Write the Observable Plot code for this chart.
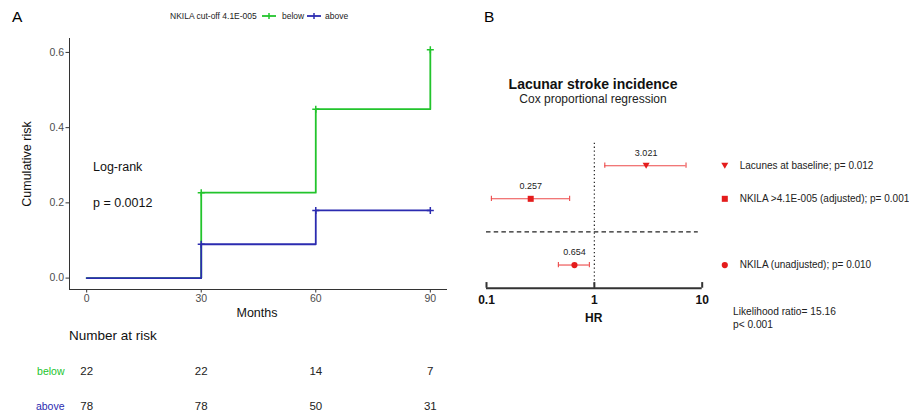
<!DOCTYPE html>
<html><head><meta charset="utf-8">
<script src="https://cdn.jsdelivr.net/npm/d3@7"></script>
<script src="https://cdn.jsdelivr.net/npm/@observablehq/plot@0.6"></script>
<style>
body{margin:0;background:#fff;}
#root{position:relative;width:909px;height:416px;overflow:hidden;background:#fff;font-family:"Liberation Sans",Arial,sans-serif;color:#000;}
.t{position:absolute;white-space:nowrap;line-height:1;}
svg.p{position:absolute;}
</style></head><body><div id="root"></div>
<script>
// ---- Panel A: cumulative risk (Kaplan-Meier style) ----
const months = [0, 30, 60, 90];
const riskBelow = [0, 0.227, 0.449, 0.607];
const riskAbove = [0, 0.090, 0.180, 0.180];
const censorMonths = [30, 60, 90];
const groups = ["below", "above"];
const atRiskBelow = [22, 22, 14, 7];
const atRiskAbove = [78, 78, 50, 31];
const kmTicksX = [0, 30, 60, 90];
const kmTicksY = [0, 0.2, 0.4, 0.6];

// ---- Panel B: Cox proportional regression ----
const coxLabels = ["Lacunes at baseline; p= 0.012", "NKILA >4.1E-005 (adjusted); p= 0.001", "NKILA (unadjusted); p= 0.010"];
const coxHR = [3.021, 0.257, 0.654];
const coxLow = [1.25, 0.111, 0.464];
const coxHigh = [7.08, 0.59, 0.899];
const coxRow = [0, 1, 3];
const coxShape = ["triangleDown", "square", "circle"];
const separatorRow = 2;
const hrTicks = [0.1, 1, 10];

const GREEN = "#22c42c", BLUE = "#2b2bb0", RED = "#e41c1c", CIRED = "#ec4a4a";
const FONT = '"Liberation Sans", Arial, sans-serif';
const root = document.getElementById("root");

function txt(s, x, y, opts = {}) {
  const d = document.createElement("div");
  d.className = "t";
  d.textContent = s;
  d.style.left = x + "px";
  d.style.top = y + "px";
  d.style.fontSize = (opts.size || 12) + "px";
  if (opts.bold) d.style.fontWeight = "bold";
  if (opts.color) d.style.color = opts.color;
  const ax = opts.align === "center" ? "-50%" : opts.align === "right" ? "-100%" : "0";
  d.style.transform = `translate(${ax},-50%)` + (opts.rotate ? ` rotate(${opts.rotate}deg)` : "");
  root.appendChild(d);
  return d;
}
function place(svg, left, top) {
  svg.classList.add("p");
  svg.style.left = left + "px";
  svg.style.top = top + "px";
  root.appendChild(svg);
}

// KM plot
const xDom = [-4.5, 94.5], yDom = [-0.0303, 0.637];
const kmBelow = months.map((m, i) => ({m, r: riskBelow[i]}));
const kmAbove = months.map((m, i) => ({m, r: riskAbove[i]}));
const cenBelow = censorMonths.map(m => ({m, r: riskBelow[months.indexOf(m)]}));
const cenAbove = censorMonths.map(m => ({m, r: riskAbove[months.indexOf(m)]}));

const km = Plot.plot({
  width: 460, height: 320, marginLeft: 69, marginRight: 13, marginTop: 38, marginBottom: 31,
  x: {domain: xDom}, y: {domain: yDom},
  style: {fontFamily: FONT, background: "transparent", overflow: "visible"},
  marks: [
    Plot.ruleX([xDom[0]], {stroke: "#333", strokeWidth: 1}),
    Plot.ruleY([yDom[0]], {stroke: "#333", strokeWidth: 1}),
    Plot.axisX({ticks: kmTicksX, tickSize: 3.5, tickPadding: 2, fontSize: 10.5, fill: "#4d4d4d", stroke: "#333", label: null}),
    Plot.axisY({ticks: kmTicksY, tickFormat: d3.format(".1f"), tickSize: 3.5, tickPadding: 2, fontSize: 10.5, fill: "#4d4d4d", stroke: "#333", label: null}),
    Plot.line(kmBelow, {x: "m", y: "r", curve: "step-after", stroke: GREEN, strokeWidth: 1.8}),
    Plot.line(kmAbove, {x: "m", y: "r", curve: "step-after", stroke: BLUE, strokeWidth: 1.8}),
    Plot.dot(cenBelow, {x: "m", y: "r", symbol: "plus", r: 2.4, stroke: GREEN, strokeWidth: 1.5}),
    Plot.dot(cenAbove, {x: "m", y: "r", symbol: "plus", r: 2.4, stroke: BLUE, strokeWidth: 1.5})
  ]
});
place(km, 0, 0);

// Number at risk table
const tableData = groups.flatMap(g => months.map((m, i) => ({g, m, n: (g === "below" ? atRiskBelow : atRiskAbove)[i]})));
const tbl = Plot.plot({
  width: 460, height: 96, marginLeft: 69, marginRight: 13, marginTop: 0, marginBottom: 0,
  x: {domain: xDom, axis: null},
  y: {type: "point", domain: groups, range: [51, 86], padding: 0, axis: null},
  style: {fontFamily: FONT, background: "transparent", overflow: "visible"},
  marks: [
    Plot.text(tableData, {x: "m", y: "g", text: "n", fontSize: 11.5, fill: "#222"}),
    Plot.text(groups.filter(g => g === "below"), {y: d => d, text: d => d, frameAnchor: "left", textAnchor: "end", dx: -5, fontSize: 10.5, fill: GREEN}),
    Plot.text(groups.filter(g => g === "above"), {y: d => d, text: d => d, frameAnchor: "left", textAnchor: "end", dx: -5, fontSize: 10.5, fill: BLUE})
  ]
});
place(tbl, 0, 320);

// Forest plot
const triangleDown = {
  draw(ctx, size) {
    const w = Math.sqrt(size) * 1.2, h = w * 0.43;
    ctx.moveTo(-w / 2, -h); ctx.lineTo(w / 2, -h); ctx.lineTo(0, h); ctx.closePath();
  }
};
const symbolFor = {triangleDown, square: "square", circle: "circle"};
const rSize = {triangleDown: 3.3, square: 3.4, circle: 3.1};
const cox = coxLabels.map((label, i) => ({label, hr: coxHR[i], lo: coxLow[i], hi: coxHigh[i], row: coxRow[i], shape: coxShape[i]}));
const yTop = -0.68, yBot = 3.7;
const xD = [hrTicks[0], hrTicks[hrTicks.length - 1]];

const dotMarks = [];
for (const shape of coxShape) {
  const sub = cox.filter(d => d.shape === shape);
  dotMarks.push(Plot.dot(sub, {x: "hr", y: "row", symbol: symbolFor[shape], r: rSize[shape], fill: RED, stroke: "none"}));
  dotMarks.push(Plot.dot(sub, {y: "row", frameAnchor: "right", dx: 22.6, symbol: symbolFor[shape], r: rSize[shape], fill: RED, stroke: "none"}));
}

const forest = Plot.plot({
  width: 449, height: 416, marginLeft: 26, marginRight: 207.3, marginTop: 142.7, marginBottom: 128.3,
  x: {type: "log", domain: xD},
  y: {domain: [yTop, yBot], reverse: true, axis: null},
  style: {fontFamily: FONT, background: "transparent", overflow: "hidden"},
  marks: [
    Plot.ruleX([1], {y1: yTop, y2: yBot, stroke: "#222", strokeWidth: 1.2, strokeDasharray: "1.3,2.6"}),
    Plot.ruleY([separatorRow], {x1: xD[0], x2: 9.2, stroke: "#222", strokeWidth: 1.3, strokeDasharray: "4.5,3.2"}),
    Plot.ruleY([yBot], {x1: xD[0], x2: xD[1], stroke: "#333", strokeWidth: 2}),
    Plot.ruleX(hrTicks, {x: d => d, y1: yBot, y2: yBot - 0.17, stroke: "#333", strokeWidth: 2}),
    Plot.axisX({ticks: hrTicks, tickFormat: d => String(d), tickSize: 0, tickPadding: 7, fontSize: 12, fontWeight: "bold", fill: "#111", label: null}),
    Plot.ruleY(cox, {y: "row", x1: "lo", x2: "hi", stroke: CIRED, strokeWidth: 1.1}),
    Plot.ruleX(cox, {x: "lo", y1: d => d.row - 0.08, y2: d => d.row + 0.08, stroke: CIRED, strokeWidth: 1.1}),
    Plot.ruleX(cox, {x: "hi", y1: d => d.row - 0.08, y2: d => d.row + 0.08, stroke: CIRED, strokeWidth: 1.1}),
    ...dotMarks,
    Plot.text(cox, {x: "hr", y: "row", text: d => d3.format(".3f")(d.hr), dy: -12.6, fontSize: 9, fill: "#222"}),
    Plot.text(cox, {y: "row", text: "label", frameAnchor: "right", textAnchor: "start", dx: 37.5, fontSize: 10, fill: "#222"})
  ]
});
place(forest, 460, 0);

// ---- Text annotations ----
txt("A", 12, 17, {size: 15.5});
txt("B", 484, 17, {size: 15.5});

// legend (panel A)
txt("NKILA cut-off 4.1E-005", 170, 16, {size: 8.5, color: "#222"});
function legendGlyph(x, color) {
  const ns = "http://www.w3.org/2000/svg";
  const s = document.createElementNS(ns, "svg");
  s.setAttribute("width", 16); s.setAttribute("height", 10);
  s.style.position = "absolute"; s.style.left = x + "px"; s.style.top = "11px";
  s.innerHTML = `<line x1="1" y1="5" x2="15" y2="5" stroke="${color}" stroke-width="1.8"/><line x1="8" y1="2" x2="8" y2="8" stroke="${color}" stroke-width="1.5"/>`;
  root.appendChild(s);
}
legendGlyph(261, GREEN);
txt("below", 282, 16, {size: 8.5, color: "#222"});
legendGlyph(306, BLUE);
txt("above", 325, 16, {size: 8.5, color: "#222"});

txt("Cumulative risk", 27, 164, {size: 12.5, align: "center", rotate: -90, color: "#111"});
txt("Months", 257, 313, {size: 12.5, align: "center", color: "#111"});
txt("Log-rank", 93, 167, {size: 12.5, color: "#111"});
txt("p = 0.0012", 93, 203, {size: 12.5, color: "#111"});
txt("Number at risk", 69, 336, {size: 13.5, color: "#111"});

txt("Lacunar stroke incidence", 593, 84, {size: 14, bold: true, align: "center", color: "#111"});
txt("Cox proportional regression", 593, 99, {size: 12, align: "center", color: "#222"});
txt("HR", 593.7, 318, {size: 12, bold: true, align: "center", color: "#111"});
txt("Likelihood ratio= 15.16", 733, 312, {size: 10.2, color: "#222"});
txt("p< 0.001", 733, 325, {size: 10.2, color: "#222"});
</script></body></html>
